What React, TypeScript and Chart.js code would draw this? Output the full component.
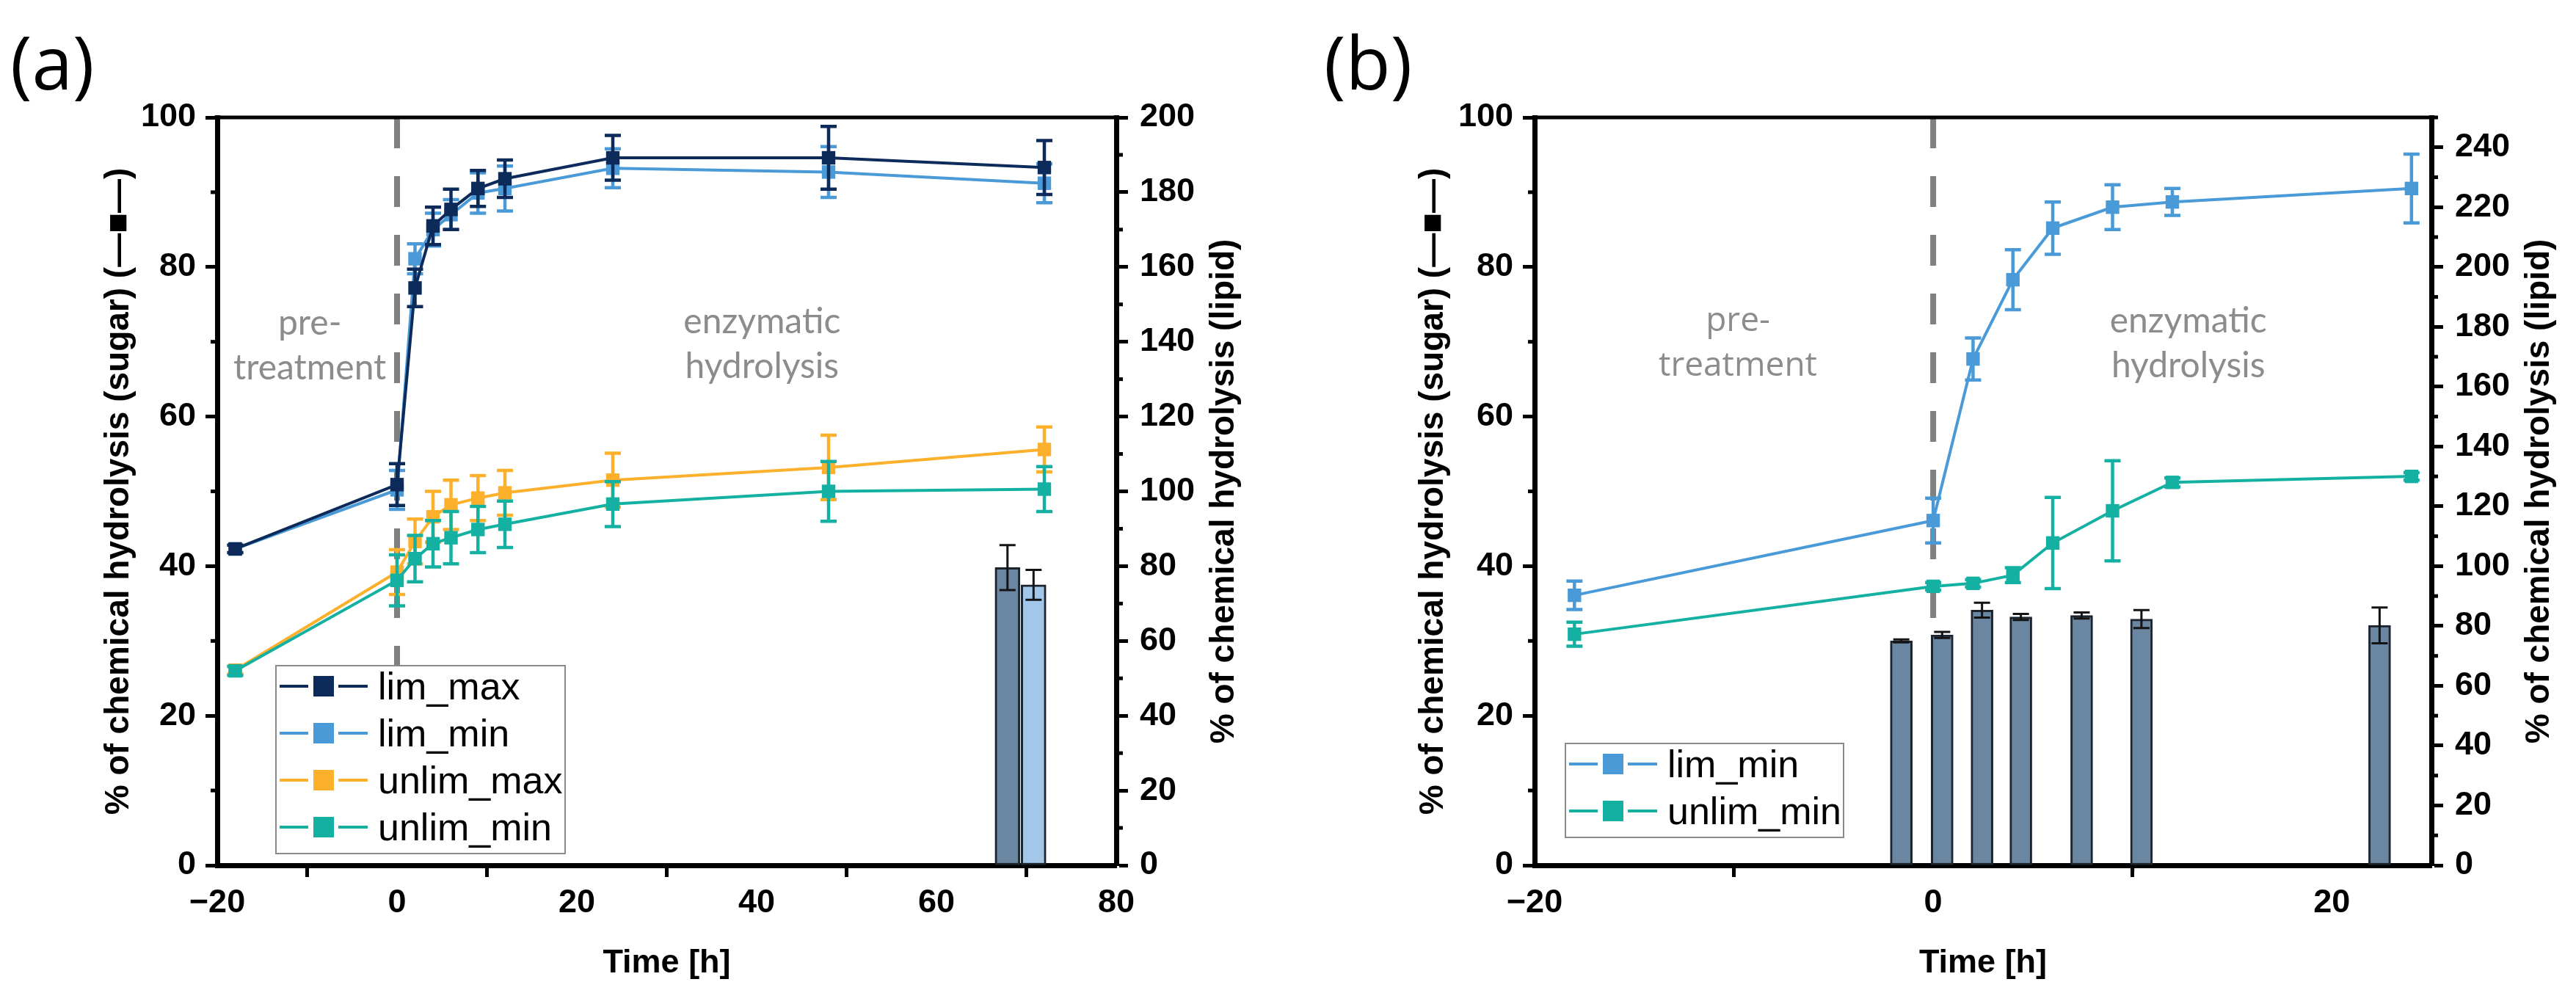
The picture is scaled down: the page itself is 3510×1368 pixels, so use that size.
import { useEffect, useRef } from "react";
import { Chart, registerables } from "chart.js";

Chart.register(...registerables);

// ---- (a) four conditions, 72 h ----
const timeA = [-18, 0, 2, 4, 6, 9, 12, 24, 48, 72];
const limMaxA = [42.3, 50.9, 77.2, 85.5, 87.7, 90.5, 91.8, 94.6, 94.6, 93.3];
const limMaxErrA = [0.5, 2.8, 2.5, 2.5, 2.7, 2.4, 2.5, 3.0, 4.2, 3.6];
const limMinA = [42.3, 50.2, 81.1, 85.0, 87.0, 89.9, 90.5, 93.2, 92.7, 91.2];
const limMinErrA = [0.5, 2.6, 2.0, 2.2, 2.0, 2.7, 3.0, 2.6, 3.4, 2.6];
const unlimMaxA = [26.1, 39.2, 43.3, 46.6, 48.2, 49.1, 49.8, 51.5, 53.2, 55.6];
const unlimMaxErrA = [0.5, 3.0, 3.0, 3.4, 3.3, 3.0, 3.0, 3.6, 4.3, 3.0];
const unlimMinA = [26.0, 38.1, 41.0, 43.0, 43.8, 44.9, 45.6, 48.3, 50.0, 50.3];
const unlimMinErrA = [0.6, 3.4, 3.1, 3.1, 3.5, 3.1, 3.1, 3.0, 4.0, 3.0];
// lipid bars, right axis
const lipidTimeA = [67.9, 70.8];
const lipidA = [79.6, 75.0];
const lipidErrA = [6.0, 4.0];

// ---- (b) two conditions, 24 h ----
const timeB = [-18, 0, 2, 4, 6, 9, 12, 24];
const limMinB = [36.1, 46.1, 67.7, 78.3, 85.2, 88.0, 88.7, 90.5];
const limMinErrB = [1.9, 3.0, 2.8, 4.0, 3.5, 3.0, 1.8, 4.6];
const unlimMinB = [30.9, 37.3, 37.7, 38.8, 43.1, 47.4, 51.2, 52.0];
const unlimMinErrB = [1.6, 0.5, 0.5, 1.0, 6.1, 6.7, 0.6, 0.5];
const lipidTimeB = [-1.6, 0.45, 2.45, 4.4, 7.45, 10.45, 22.4];
const lipidB = [75.0, 77.0, 85.3, 83.0, 83.5, 82.3, 80.2];
const lipidErrB = [0.5, 1.0, 2.5, 1.0, 1.0, 3.0, 6.0];

const SANS = "'Liberation Sans', Arial, sans-serif";
const NAVY = "#0c2a5a";
const BLUE = "#4a9ad8";
const ORANGE = "#fcb02c";
const TEAL = "#14b1a3";
const DIVIDER = "#808080";
const NOTE = "#8c8c8c";

interface Series {
  label: string;
  color: string;
  t: number[];
  v: number[];
  err: number[];
  order: number;
}

interface Note {
  x: number;
  y: number;
  lines: string[];
  font: string;
}

interface Panel {
  tag: string;
  tagX: number;
  xMax: number;
  y1Max: number;
  leftW: number;
  rightW: number;
  leftTitlePad: number;
  series: Series[];
  barT: number[];
  barV: number[];
  barErr: number[];
  barFill: string[];
  barW: number;
  dividerEnd: number;
  legend: { left: number; top: number; width: number };
  notes: Note[];
}

const panelA: Panel = {
  tag: "(a)",
  tagX: 14,
  xMax: 80,
  y1Max: 200,
  leftW: 296,
  rightW: 234,
  leftTitlePad: 135,
  series: [
    { label: "lim_max", color: NAVY, t: timeA, v: limMaxA, err: limMaxErrA, order: 1 },
    { label: "lim_min", color: BLUE, t: timeA, v: limMinA, err: limMinErrA, order: 2 },
    { label: "unlim_max", color: ORANGE, t: timeA, v: unlimMaxA, err: unlimMaxErrA, order: 4 },
    { label: "unlim_min", color: TEAL, t: timeA, v: unlimMinA, err: unlimMinErrA, order: 3 },
  ],
  barT: lipidTimeA,
  barV: lipidA,
  barErr: lipidErrA,
  barFill: ["#6a86a1", "#a3c7e8"],
  barW: 34,
  dividerEnd: 0,
  legend: { left: 376, top: 907, width: 394 },
  notes: [
    { x: -9.7, y: 69.5, lines: ["pre-", "treatment"], font: "48px Lato" },
    { x: 40.6, y: 69.7, lines: ["enzymatic", "hydrolysis"], font: "48px Lato" },
  ],
};

const panelB: Panel = {
  tag: "(b)",
  tagX: 49,
  xMax: 25,
  y1Max: 250,
  leftW: 336,
  rightW: 197,
  leftTitlePad: 171,
  series: [
    { label: "lim_min", color: BLUE, t: timeB, v: limMinB, err: limMinErrB, order: 2 },
    { label: "unlim_min", color: TEAL, t: timeB, v: unlimMinB, err: unlimMinErrB, order: 3 },
  ],
  barT: lipidTimeB,
  barV: lipidB,
  barErr: lipidErrB,
  barFill: ["#6a86a1"],
  barW: 30,
  dividerEnd: 33,
  legend: { left: 378, top: 1013, width: 379 },
  notes: [
    { x: -9.8, y: 69.75, lines: ["pre-", "treatment"], font: "46px 'Open Sans'" },
    { x: 12.8, y: 69.75, lines: ["enzymatic", "hydrolysis"], font: "48px Lato" },
  ],
};

const signed = (v: number | string) => {
  const n = Number(v);
  return n < 0 ? "\u2212" + Math.abs(n) : String(n);
};

function overlay(p: Panel) {
  return {
    id: "overlay",
    afterDatasetDraw(chart: any, args: any) {
      const ds = chart.data.datasets[args.index];
      if (!ds.errors) return;
      const ys = chart.scales[ds.yAxisID];
      const ctx = chart.ctx;
      ctx.save();
      ctx.strokeStyle = ds.errColor;
      ctx.lineWidth = ds.errWidth;
      args.meta.data.forEach((el: any, i: number) => {
        const v = ds.data[i].y;
        const e = ds.errors[i];
        const hi = ys.getPixelForValue(v + e);
        const lo = ys.getPixelForValue(v - e);
        const x = el.x;
        ctx.beginPath();
        ctx.moveTo(x, hi);
        ctx.lineTo(x, lo);
        ctx.moveTo(x - ds.capHalf, hi);
        ctx.lineTo(x + ds.capHalf, hi);
        ctx.moveTo(x - ds.capHalf, lo);
        ctx.lineTo(x + ds.capHalf, lo);
        ctx.stroke();
      });
      ctx.restore();
    },
    afterDraw(chart: any) {
      const { ctx, chartArea: a } = chart;
      ctx.save();

      // minor ticks every 10 units
      ctx.strokeStyle = "#000";
      ctx.lineWidth = 5;
      for (const id of ["x", "y", "y1"]) {
        const s = chart.scales[id];
        for (let v = Math.ceil(s.min / 10) * 10; v <= s.max; v += 10) {
          if (v % 20 === 0) continue;
          const px = s.getPixelForValue(v);
          ctx.beginPath();
          if (id === "x") {
            ctx.moveTo(px, a.bottom);
            ctx.lineTo(px, a.bottom + 9);
          } else if (id === "y") {
            ctx.moveTo(a.left, px);
            ctx.lineTo(a.left - 9, px);
          } else {
            ctx.moveTo(a.right, px);
            ctx.lineTo(a.right + 9, px);
          }
          ctx.stroke();
        }
      }
      // top frame
      ctx.beginPath();
      ctx.moveTo(a.left - 3.5, a.top);
      ctx.lineTo(a.right + 3.5, a.top);
      ctx.stroke();

      // phase notes
      const xs = chart.scales.x;
      const ys = chart.scales.y;
      ctx.fillStyle = NOTE;
      ctx.textAlign = "center";
      ctx.textBaseline = "middle";
      for (const n of p.notes) {
        ctx.font = n.font;
        const cx = xs.getPixelForValue(n.x);
        const cy = ys.getPixelForValue(n.y);
        n.lines.forEach((line, i) => {
          ctx.fillText(line, cx, cy + (i - (n.lines.length - 1) / 2) * 61);
        });
      }

      // legend box
      const L = p.legend.left;
      const T = p.legend.top;
      const H = 28 + 64 * (p.series.length - 1) + 36;
      ctx.fillStyle = "#fff";
      ctx.fillRect(L, T, p.legend.width, H);
      ctx.strokeStyle = "#8a8a8a";
      ctx.lineWidth = 2;
      ctx.strokeRect(L, T, p.legend.width, H);
      ctx.textAlign = "left";
      ctx.textBaseline = "alphabetic";
      ctx.font = `52px ${SANS}`;
      p.series.forEach((s, i) => {
        const cy = T + 28 + i * 64;
        ctx.strokeStyle = s.color;
        ctx.lineWidth = 4;
        ctx.beginPath();
        ctx.moveTo(L + 5, cy);
        ctx.lineTo(L + 44, cy);
        ctx.moveTo(L + 85, cy);
        ctx.lineTo(L + 125, cy);
        ctx.stroke();
        ctx.fillStyle = s.color;
        ctx.fillRect(L + 51, cy - 14, 28, 28);
        ctx.fillStyle = "#000";
        ctx.fillText(s.label, L + 139, cy + 18);
      });

      // right axis title, reading bottom to top
      ctx.save();
      ctx.translate(a.right + 147, (a.top + a.bottom) / 2);
      ctx.rotate(-Math.PI / 2);
      ctx.textAlign = "center";
      ctx.textBaseline = "middle";
      ctx.font = `bold 46px ${SANS}`;
      ctx.fillStyle = "#000";
      ctx.fillText("% of chemical hydrolysis (lipid)", 0, 0);
      ctx.restore();

      // panel tag
      ctx.font = "100px 'Open Sans'";
      ctx.fillStyle = "#000";
      ctx.textAlign = "left";
      ctx.textBaseline = "alphabetic";
      ctx.fillText(p.tag, p.tagX, 122);

      ctx.restore();
    },
  };
}

function makeChart(canvas: HTMLCanvasElement, p: Panel): Chart {
  const datasets: any[] = p.series.map((s) => ({
    type: "line",
    label: s.label,
    data: s.t.map((x, i) => ({ x, y: s.v[i] })),
    errors: s.err,
    errColor: s.color,
    errWidth: 4.5,
    capHalf: 11,
    borderColor: s.color,
    backgroundColor: s.color,
    borderWidth: 4,
    pointStyle: "rect",
    pointRadius: 13,
    pointBorderWidth: 0,
    pointBackgroundColor: s.color,
    tension: 0,
    yAxisID: "y",
    order: s.order,
  }));
  datasets.push({
    type: "bar",
    label: "lipid",
    data: p.barT.map((x, i) => ({ x, y: p.barV[i] })),
    errors: p.barErr,
    errColor: "#141414",
    errWidth: 3,
    capHalf: 11,
    backgroundColor: p.barFill,
    borderColor: "#1c242e",
    borderWidth: 3,
    borderSkipped: false,
    barThickness: p.barW,
    grouped: false,
    yAxisID: "y1",
    order: 15,
  });
  datasets.push({
    type: "line",
    label: "divider",
    data: [
      { x: 0, y: 100 },
      { x: 0, y: p.dividerEnd },
    ],
    borderColor: DIVIDER,
    borderWidth: 8,
    borderDash: [42, 38],
    pointRadius: 0,
    yAxisID: "y",
    order: 20,
  });

  const axisBase = {
    border: { display: true, color: "#000", width: 7 },
    grid: {
      drawOnChartArea: false,
      drawTicks: true,
      tickLength: 16,
      tickWidth: 5,
      tickColor: "#000",
    },
  };
  const tickFont = { family: SANS, size: 45, weight: "bold" as const };

  return new Chart(canvas, {
    type: "line",
    data: { datasets },
    options: {
      animation: false,
      responsive: true,
      maintainAspectRatio: false,
      devicePixelRatio: 1,
      events: [],
      layout: { padding: { top: 160, left: 0, right: 0, bottom: 0 } },
      plugins: {
        legend: { display: false },
        tooltip: { enabled: false },
      },
      scales: {
        x: {
          type: "linear",
          position: "bottom",
          min: -20,
          max: p.xMax,
          offset: false,
          ...axisBase,
          ticks: {
            stepSize: 20,
            includeBounds: false,
            autoSkip: false,
            maxRotation: 0,
            padding: 9,
            color: "#000",
            font: tickFont,
            callback: (v: any) => signed(v),
          },
          title: {
            display: true,
            text: "Time [h]",
            color: "#000",
            font: { family: SANS, size: 45, weight: "bold" },
            padding: { top: 0, bottom: 28 },
          },
          afterFit: (s: any) => {
            s.height = 189;
          },
        },
        y: {
          type: "linear",
          position: "left",
          min: 0,
          max: 100,
          ...axisBase,
          ticks: { stepSize: 20, padding: 13, color: "#000", font: tickFont },
          title: {
            display: true,
            text: "% of chemical hydrolysis (sugar) (\u2014\u25A0\u2014)",
            color: "#000",
            font: { family: SANS, size: 46, weight: "bold" },
            padding: { top: p.leftTitlePad, bottom: 0 },
          },
          afterFit: (s: any) => {
            s.width = p.leftW;
          },
        },
        y1: {
          type: "linear",
          position: "right",
          min: 0,
          max: p.y1Max,
          ...axisBase,
          ticks: {
            stepSize: 20,
            includeBounds: false,
            padding: 16,
            color: "#000",
            font: tickFont,
          },
          afterFit: (s: any) => {
            s.width = p.rightW;
          },
        },
      },
    } as any,
    plugins: [overlay(p)],
  });
}

function PanelChart({ panel, left }: { panel: Panel; left: number }) {
  const canvasRef = useRef<HTMLCanvasElement>(null);

  useEffect(() => {
    const chart = makeChart(canvasRef.current!, panel);
    return () => {
      chart.destroy();
    };
  }, [panel]);

  return (
    <div style={{ position: "absolute", left, top: 0, width: 1755, height: 1368 }}>
      <canvas ref={canvasRef}></canvas>
    </div>
  );
}

export default function App() {
  return (
    <div
      style={{
        position: "fixed",
        left: 0,
        top: 0,
        width: 3510,
        height: 1368,
        background: "#fff",
      }}
    >
      <PanelChart panel={panelA} left={0} />
      <PanelChart panel={panelB} left={1755} />
    </div>
  );
}
